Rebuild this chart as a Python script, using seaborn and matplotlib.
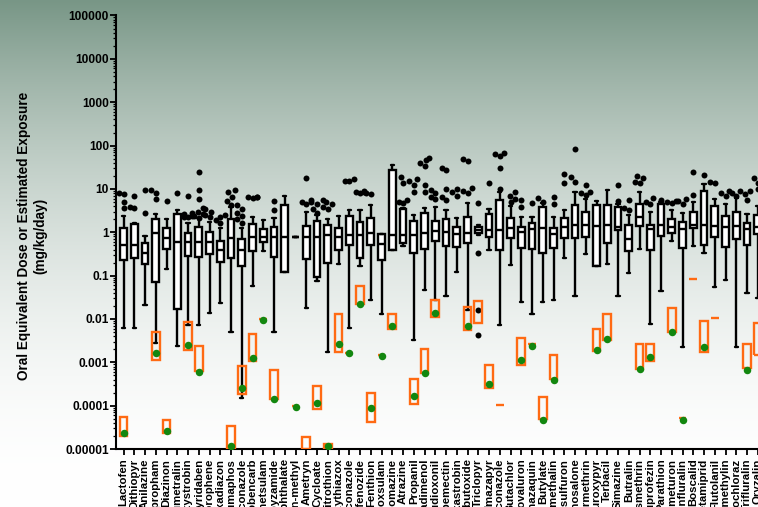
import numpy as np
import pandas as pd
import matplotlib
matplotlib.use("Agg")
import matplotlib.pyplot as plt
from matplotlib.ticker import FixedLocator, FixedFormatter, LogLocator, NullFormatter
import seaborn as sns

nan = np.nan

chems = [
    "Lactofen", "Dithiopyr", "Anilazine", "Chlorpropham", "Diazinon", "Flumetralin",
    "Azoxystrobin", "Pyridaben", "Chlorophene", "Oxadiazon", "Coumaphos", "Propiconazole",
    "Thiobencarb", "Flumetsulam", "Propyzamide", "Diethyl phthalate", "Bensulfuron-methyl",
    "Ametryn", "Cycloate", "Fenitrothion", "Hexythiazox", "Hexaconazole", "Methoxyfenozide",
    "Fenthion", "Penoxsulam", "Cyromazine", "Atrazine", "Propanil", "Triadimenol",
    "Fludioxonil", "Milbemectin", "Fluoxastrobin", "Piperonyl butoxide", "Triclopyr",
    "Imazapyr", "Tebuconazole", "Butachlor", "Novaluron", "Fenazaquin", "Butylate",
    "Pendimethalin", "Chlorsulfuron", "Phosalone", "Permethrin", "Fluroxypyr", "Terbacil",
    "Simazine", "Butralin", "Resmethrin", "Buprofezin", "Parathion", "Fluometuron",
    "Benfluralin", "Boscalid", "Acetamiprid", "Flutolanil", "Cinmethylin", "Prochloraz",
    "Trifluralin", "Oryzalin",
]

# oral equivalent dose distribution per chemical (mg/kg/day)
whisker_low = [0.0061, 0.0063, 0.021, 0.0028, 0.14, 0.0024, 0.0073, 0.0073, 0.0135, 0.023,
               0.0051, 0.000148, 0.058, 0.36, 0.0049, 0.124, 0.77, 0.0177, 0.075, 0.0017,
               0.19, 0.0063, 0.17, 0.0275, 0.0129, 0.40, 0.48, 0.0032, 0.047, 0.028,
               0.033, 0.124, 0.016, 0.85, 0.40, 0.0073, 0.18, 0.024, 0.013, 0.024,
               0.0275, 0.26, 0.034, 0.32, 0.17, 0.186, 0.034, 0.113, 0.41, 0.0076,
               0.043, 0.64, 0.0022, 0.48, 0.33, 0.054, 0.079, 0.0022, 0.039, 0.03]
quartile_1 = [0.23, 0.26, 0.186, 0.073, 0.42, 0.017, 0.28, 0.27, 0.32, 0.21,
              0.26, 0.17, 0.36, 0.61, 0.27, 0.124, 0.77, 0.24, 0.091, 0.2,
              0.40, 0.51, 0.26, 0.51, 0.23, 0.40, 0.58, 0.33, 0.41, 0.64,
              0.48, 0.45, 0.56, 0.95, 0.77, 0.38, 0.73, 0.43, 0.41, 0.34,
              0.43, 0.73, 0.73, 0.77, 0.17, 0.58, 1.1, 0.36, 1.38, 0.38,
              0.82, 0.95, 0.43, 1.23, 0.51, 0.79, 0.45, 0.69, 0.51, 0.9]
median = [0.50, 0.50, 0.33, 0.95, 0.72, 0.6, 0.61, 0.6, 0.61, 0.39,
          0.73, 0.4, 0.77, 0.77, 0.77, 0.77, 0.77, 0.77, 0.77, 0.87,
          0.77, 0.87, 0.87, 0.95, 0.55, 0.87, 0.87, 0.87, 0.95, 1.09,
          1.0, 0.91, 0.98, 1.1, 1.1, 1.1, 1.23, 1.0, 1.17, 1.23,
          0.9, 1.35, 1.48, 1.48, 1.4, 1.48, 1.35, 0.69, 2.2, 1.2,
          1.48, 1.3, 1.2, 1.5, 1.5, 1.4, 1.3, 1.4, 1.2, 1.3]
quartile_3 = [1.26, 1.55, 0.56, 2.0, 1.24, 2.7, 0.95, 1.3, 1.04, 0.64,
              2.0, 0.69, 1.56, 1.19, 1.3, 4.3, 0.77, 1.4, 1.86, 1.5,
              1.28, 2.4, 1.76, 2.1, 0.91, 27.5, 3.4, 1.86, 2.8, 1.83,
              2.0, 1.3, 2.3, 1.3, 2.7, 5.6, 2.1, 1.3, 1.6, 3.8,
              1.23, 2.1, 4.3, 3.0, 4.3, 4.3, 3.8, 1.48, 4.5, 1.48,
              4.4, 2.0, 1.7, 3.0, 9.1, 4.1, 2.4, 3.0, 1.65, 2.5]
whisker_high = [2.4, 1.6, 0.82, 2.7, 2.0, 3.3, 1.6, 2.1, 1.76, 1.24,
                3.8, 1.24, 2.2, 1.9, 2.1, 6.9, 0.77, 3.0, 2.5, 2.0,
                2.4, 3.3, 3.3, 4.3, 0.91, 35.7, 3.6, 2.5, 3.6, 3.9,
                3.3, 2.1, 4.8, 1.45, 3.4, 8.5, 4.0, 2.3, 2.2, 4.7,
                2.2, 3.3, 8.7, 5.8, 5.4, 9.5, 4.5, 2.5, 8.7, 3.0,
                5.0, 3.3, 2.75, 5.1, 13.0, 5.8, 4.5, 6.1, 2.6, 4.0]
outliers = [
    [7.9, 3.6, 7.5, 5.0], [3.6, 3.9, 6.7], [2.8, 9.6], [5.8, 8.0, 9.5], [5.4], [7.9],
    [6.8, 2.2, 2.4, 2.6, 2.8, 2.3], [25, 9.3, 5.9, 3.6, 3.0, 2.4, 2.1, 2.6],
    [3.4, 3.0, 2.5, 2.2], [2.5, 2.3, 1.9, 1.6], [8.7, 9.2, 6.6, 5.4, 4.3],
    [4.3, 3.5, 2.8, 2.4, 2.0, 1.6], [6.6, 6.4, 6.2, 6.5], [], [5.4, 3.3], [], [],
    [17.5, 5.1, 5.0, 5.5, 4.6], [4.5, 3.4, 2.8], [5.6, 5.0, 4.5, 3.8, 3.5], [],
    [16.5, 15.5, 15.0], [8.7, 9.0, 7.9, 8.3], [8.0, 7.6], [], [],
    [19, 14, 5.5, 5.0, 4.8], [16.6, 15.0, 12.6, 8.7], [51, 46, 39, 34, 12, 8.7],
    [9.5, 8.2, 5.8, 6.5], [30, 27, 10, 6.5, 5.5], [9.8, 8.5, 7.0],
    [49, 44, 10.4, 9.0, 8.2], [4.7, 0.34, 0.016, 0.0043], [13.5],
    [69, 64, 58, 30, 10], [8.7, 7.0, 6.0, 5.1], [5.6, 3.9], [4.7], [5.1, 6.1],
    [6.4, 4.6], [22, 13.5], [83, 19, 14.7], [12, 8.7, 7.9, 7.3], [], [],
    [12.3, 5.4], [5.6, 3.3, 3.6], [20, 17.6, 14.8, 13.5], [6.1, 5.1, 4.6], [5.5],
    [5.0, 5.3, 4.8], [5.4, 6.0, 4.6], [24, 7.3], [21], [14, 14.7], [9, 8, 7],
    [8, 7, 9], [9, 7.5, 5.6], [14, 18, 10],
]

# estimated exposure range and point estimate (mg/kg/day)
exposure_low = [2.0e-5, nan, nan, 0.00113, 2.3e-5, nan, 0.0019, 0.00062, nan, nan,
                1.0e-5, 0.000186, 0.0011, 0.0102, 0.00014, nan, 0.0001, 1.0e-5, 8.3e-5, 1.0e-5,
                0.0017, 0.00165, 0.0218, 4.2e-5, 0.00148, 0.0059, nan, 0.00011, 0.00058, 0.0113,
                nan, nan, 0.0056, 0.0079, 0.00026, 0.000105, nan, 0.00087, 0.0026, 5.0e-5,
                0.00041, nan, nan, nan, 0.0018, 0.0033, nan, nan, 0.00069, 0.0011,
                nan, 0.005, 5.1e-5, 0.082, 0.0017, 0.0104, nan, nan, 0.00072, 0.0015]
exposure_high = [5.4e-5, nan, nan, 0.0051, 4.7e-5, nan, 0.0083, 0.0024, nan, nan,
                 3.4e-5, 0.00081, 0.0045, 0.0102, 0.00065, nan, 0.0001, 1.9e-5, 0.00029, 1.3e-5,
                 0.0129, 0.00165, 0.059, 0.000194, 0.00148, 0.0131, nan, 0.00042, 0.002, 0.028,
                 nan, nan, 0.019, 0.026, 0.00087, 0.000105, nan, 0.0037, 0.0026, 0.000156,
                 0.0015, nan, nan, nan, 0.0058, 0.0129, nan, nan, 0.0026, 0.0027,
                 nan, 0.0177, 5.1e-5, 0.082, 0.0089, 0.0104, nan, nan, 0.0026, 0.0079]
exposure_point = [2.35e-5, nan, nan, 0.00166, 2.6e-5, nan, 0.0025, 0.00061, nan, nan,
                  1.2e-5, 0.00026, 0.00124, 0.0095, 0.00014, nan, 0.000095, nan, 0.000113, 1.2e-5,
                  0.0026, 0.0016, 0.0218, 8.9e-5, 0.0014, 0.0069, nan, 0.000163, 0.00058, 0.014,
                  nan, nan, 0.0070, nan, 0.00031, nan, nan, 0.00113, 0.0024, 4.7e-5,
                  0.00039, nan, nan, nan, 0.0019, 0.0035, nan, nan, 0.00069, 0.00135,
                  nan, 0.0049, 4.7e-5, nan, 0.0022, nan, nan, nan, 0.00067, nan]

ytick_values = [1e-5, 1e-4, 1e-3, 1e-2, 1e-1, 1, 10, 100, 1000, 10000, 100000]
ytick_labels = ["0.00001", "0.0001", "0.001", "0.01", "0.1", "1", "10", "100",
                "1000", "10000", "100000"]
y_label = "Oral Equivalent Dose or Estimated Exposure\n(mg/kg/day)"

# ---------------------------------------------------------------- style
sns.set_theme(style="ticks")
plt.rcParams["font.family"] = ["Liberation Sans", "DejaVu Sans"]
plt.rcParams["font.weight"] = "bold"
for key in ["text.color", "axes.labelcolor", "xtick.color", "ytick.color", "axes.edgecolor"]:
    plt.rcParams[key] = "black"

W, H = 758, 507
fig = plt.figure(figsize=(W / 100, H / 100), dpi=100)

# vertical grey-green backdrop fading to white
bg = fig.add_axes([0, 0, 1, 1], zorder=0)
t = np.linspace(0, 1, 512)[:, None]
top = np.array([120, 150, 134]) / 255
grad = 1 - (1 - top)[None, :] * (1 - t) ** 2
bg.imshow(grad[:, None, :], aspect="auto", extent=[0, 1, 0, 1], origin="upper")
bg.set_axis_off()

unit = 10.75            # pixels per category
x_left = -0.70
x_right = 60.0
ax = fig.add_axes([116 / W, 58 / H, (x_right - x_left) * unit / W, 433.5 / H], zorder=1)
ax.patch.set_alpha(0)

# ---------------------------------------------------------------- boxes
box_df = pd.DataFrame({
    "chem": np.repeat(chems, 5),
    "value": np.column_stack([whisker_low, quartile_1, median, quartile_3, whisker_high]).ravel(),
})
sns.boxplot(data=box_df, x="chem", y="value", order=chems, whis=(0, 100), width=0.62,
            showfliers=False, log_scale=True, color="white", linecolor="black",
            linewidth=1.7, saturation=1, ax=ax)

out_df = pd.DataFrame([(c, v) for c, vals in zip(chems, outliers) for v in vals],
                      columns=["chem", "value"])
sns.swarmplot(data=out_df, x="chem", y="value", order=chems, color="black", size=4.3,
              log_scale=True, warn_thresh=1, ax=ax, zorder=3)

# ---------------------------------------------------------------- exposure estimates
lo = np.array(exposure_low)
hi = np.array(exposure_high)
pos = np.arange(len(chems))
has_range = ~np.isnan(lo)
ax.bar(pos[has_range], hi[has_range] - lo[has_range], bottom=lo[has_range], width=0.72,
       fill=False, edgecolor="#ff6a13", linewidth=1.7, zorder=4)

pt_df = pd.DataFrame({"chem": chems, "value": exposure_point}).dropna()
sns.stripplot(data=pt_df, x="chem", y="value", order=chems, jitter=False, color="#12870f",
              size=5.4, log_scale=True, ax=ax, zorder=5)

# ---------------------------------------------------------------- axes
ax.set_xlim(x_left, x_right)
ax.set_ylim(1e-5, 1e5)
ax.yaxis.set_major_locator(FixedLocator(ytick_values))
ax.yaxis.set_major_formatter(FixedFormatter(ytick_labels))
ax.yaxis.set_minor_locator(LogLocator(base=10, subs=np.arange(2, 10), numticks=100))
ax.yaxis.set_minor_formatter(NullFormatter())
ax.set_xticks(pos)
ax.set_xticklabels(chems, rotation=90, fontsize=8.2, fontweight="bold")
ax.tick_params(axis="x", length=4.5, width=1.3, pad=2.5)
ax.tick_params(axis="y", which="major", length=4, width=1.3, pad=1, labelsize=8.6)
ax.tick_params(axis="y", which="minor", length=2.2, width=0.9)
for lbl in ax.get_yticklabels():
    lbl.set_fontweight("bold")
ax.set_xlabel("")
ax.set_ylabel("")
sns.despine(ax=ax)
for side in ["left", "bottom"]:
    ax.spines[side].set_linewidth(1.5)
    ax.spines[side].set_color("black")

fig.text(32 / W, 1 - 236 / H, y_label, rotation=90, ha="center", va="center",
         fontsize=9.8, fontweight="bold", linespacing=1.25)

fig.savefig("out.png", dpi=100)
